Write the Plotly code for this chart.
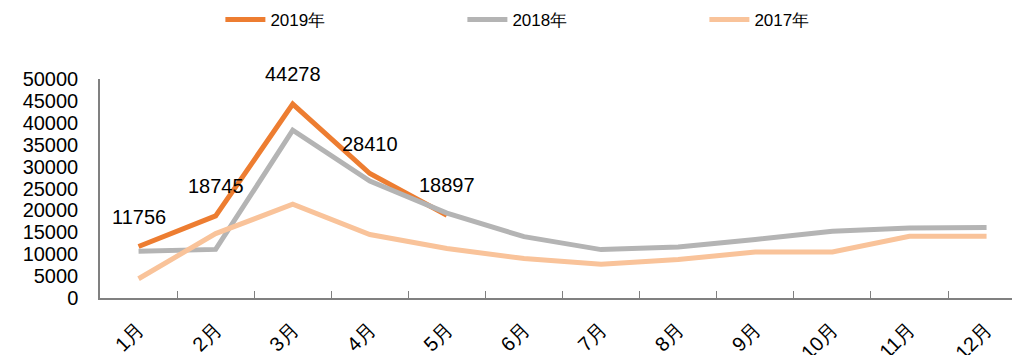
import plotly.graph_objects as go

months = ["1月", "2月", "3月", "4月", "5月", "6月", "7月", "8月", "9月", "10月", "11月", "12月"]
y2019 = [11756, 18745, 44278, 28410, 18897]
y2018 = [10700, 11100, 38300, 26700, 19400, 14000, 11050, 11650, 13350, 15250, 16000, 16100]
y2017 = [4400, 14700, 21400, 14500, 11300, 9000, 7700, 8780, 10500, 10500, 14100, 14100]

FONT = "Liberation Sans, Arial, sans-serif"

fig = go.Figure()
fig.add_trace(go.Scatter(x=months[:len(y2019)], y=y2019, name="2019年", mode="lines",
                         line=dict(color="#ED7D31", width=5)))
fig.add_trace(go.Scatter(x=months, y=y2018, name="2018年", mode="lines",
                         line=dict(color="#B4B4B4", width=5)))
fig.add_trace(go.Scatter(x=months, y=y2017, name="2017年", mode="lines",
                         line=dict(color="#F9C39A", width=5)))

for m, v in zip(months, y2019):
    fig.add_annotation(x=m, y=v, text=str(v), showarrow=False, yshift=30,
                       font=dict(family=FONT, size=20, color="#000000"))

fig.update_layout(
    width=1013, height=355,
    margin=dict(l=100, r=1, t=79, b=57),
    paper_bgcolor="white", plot_bgcolor="white",
    font=dict(family=FONT, color="#000000"),
    showlegend=True,
    legend=dict(orientation="h", x=0.132, y=1.27, xanchor="left", yanchor="middle",
                font=dict(family=FONT, size=17, color="#000000"),
                entrywidth=187, entrywidthmode="pixels", itemwidth=40,
                bgcolor="rgba(0,0,0,0)"),
    xaxis=dict(type="category", range=[-0.5, 11.33], showline=True, linecolor="#808080",
               linewidth=1.5, ticks="inside", ticklen=7, tickcolor="#808080",
               tickson="boundaries", tickangle=-45, showgrid=False, zeroline=False,
               automargin=False,
               tickfont=dict(family=FONT, size=20, color="#000000"), ticklabelstandoff=10),
    yaxis=dict(range=[0, 50000], dtick=5000, tickformat="d", showline=True, linecolor="#808080",
               linewidth=1.5, showgrid=False, zeroline=False, ticks="", automargin=False,
               tickfont=dict(family=FONT, size=20, color="#000000"), ticklabelstandoff=16),
)

fig.write_html("out.html")
